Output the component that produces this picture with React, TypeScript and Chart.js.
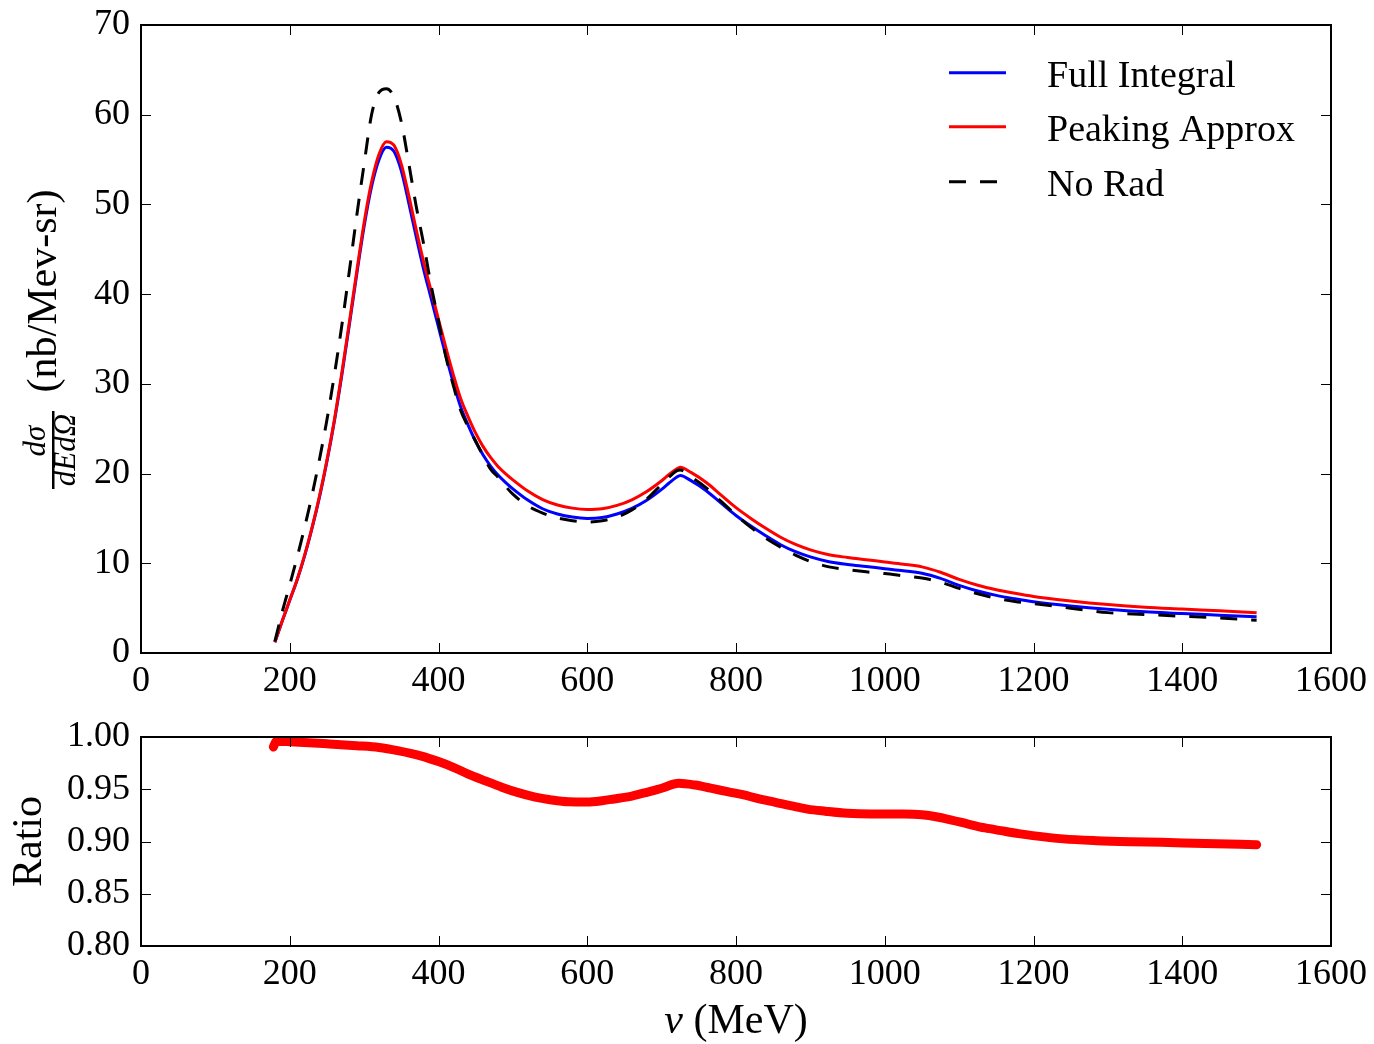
import React, { useEffect, useRef } from "react";
import { Chart, registerables } from "chart.js";

Chart.register(...registerables);

// ---------------- DATA ----------------
const nu = [
  180, 190, 200, 210, 220, 230, 240, 250, 260, 270, 280, 290, 300, 310, 320, 330, 340, 350,
  360, 370, 380, 390, 400, 410, 420, 430, 440, 450, 460, 470, 480, 490, 500, 520, 540, 560,
  580, 600, 620, 640, 660, 680, 700, 710, 720, 725, 740, 760, 780, 800, 820, 840, 860, 880,
  900, 925, 950, 975, 1000, 1025, 1050, 1075, 1100, 1125, 1150, 1175, 1200, 1250, 1300,
  1350, 1400, 1450, 1500,
];

const fullIntegral = [
  1.19, 3.59, 5.87, 8.16, 10.83, 13.92, 17.38, 21.35, 25.82, 30.95, 36.51, 42.16, 47.57,
  51.98, 54.99, 56.37, 55.92, 53.74, 50.18, 46.4, 42.77, 39.55, 36.31, 33.12, 30.1, 27.39,
  25.38, 23.57, 22.06, 20.84, 19.84, 19.02, 18.3, 17.05, 16.08, 15.5, 15.15, 15.0, 15.1,
  15.5, 16.12, 17.03, 18.24, 18.95, 19.58, 19.78, 19.18, 18.09, 16.7, 15.33, 14.15, 13.07,
  12.07, 11.29, 10.71, 10.17, 9.87, 9.64, 9.4, 9.17, 8.88, 8.31, 7.54, 6.91, 6.42, 6.04,
  5.71, 5.24, 4.87, 4.59, 4.41, 4.22, 4.04,
];

const peakingApprox = [
  1.2, 3.6, 5.9, 8.2, 10.9, 14.0, 17.5, 21.5, 26.0, 31.2, 36.8, 42.5, 48.0, 52.5, 55.6, 57.0,
  56.6, 54.5, 51.0, 47.2, 43.6, 40.4, 37.2, 34.0, 31.0, 28.3, 26.3, 24.5, 23.0, 21.8, 20.8,
  20.0, 19.3, 18.05, 17.1, 16.5, 16.15, 16.0, 16.08, 16.45, 17.08, 18.0, 19.2, 19.9, 20.5,
  20.7, 20.1, 19.0, 17.6, 16.2, 15.0, 13.9, 12.9, 12.1, 11.5, 10.95, 10.65, 10.4, 10.15, 9.9,
  9.6, 9.0, 8.2, 7.55, 7.05, 6.65, 6.3, 5.8, 5.4, 5.1, 4.9, 4.7, 4.5,
];

const noRad = [
  1.3, 4.6, 7.6, 10.7, 14.0, 17.6, 21.6, 26.0, 31.0, 36.5, 42.5, 48.7, 54.5, 60.0, 62.5,
  62.9, 62.0, 59.2, 54.6, 49.8, 45.6, 41.0, 37.0, 33.0, 29.8, 27.0, 25.2, 23.6, 22.0, 20.5,
  19.6, 18.6, 17.7, 16.4, 15.6, 15.05, 14.75, 14.6, 14.75, 15.15, 15.95, 17.15, 18.8, 19.6,
  20.3, 20.4, 19.6, 18.4, 16.9, 15.4, 14.0, 12.8, 11.8, 10.9, 10.2, 9.6, 9.3, 9.05, 8.85,
  8.6, 8.35, 7.9, 7.2, 6.6, 6.1, 5.75, 5.5, 5.0, 4.5, 4.3, 4.1, 3.9, 3.65,
];

const ratioNu = [
  178, 182, 200, 250, 290, 320, 345, 376, 400, 420, 440, 463, 485, 506, 530, 550, 575, 600,
  620, 636, 660, 680, 700, 723, 745, 766, 790, 809, 830, 853, 875, 896, 920, 950, 982, 1026,
  1050, 1069, 1090, 1112, 1135, 1156, 1180, 1199, 1240, 1285, 1330, 1372, 1430, 1500,
];

const ratio = [
  0.9905, 0.996, 0.9955, 0.9935, 0.9917, 0.99, 0.987, 0.982, 0.9765, 0.971, 0.9645, 0.958,
  0.952, 0.947, 0.9425, 0.94, 0.938, 0.9378, 0.939, 0.9407, 0.9435, 0.947, 0.951, 0.9557,
  0.954, 0.951, 0.9475, 0.9448, 0.941, 0.9375, 0.934, 0.931, 0.929, 0.927, 0.9263, 0.9262,
  0.9255, 0.9237, 0.9205, 0.9167, 0.913, 0.9104, 0.9075, 0.9056, 0.9025, 0.9008, 0.8998,
  0.8992, 0.898, 0.897,
];

const xTicks = [0, 200, 400, 600, 800, 1000, 1200, 1400, 1600];
const topYTicks = [0, 10, 20, 30, 40, 50, 60, 70];
const ratioYTicks = [0.8, 0.85, 0.9, 0.95, 1.0];

const seriesLabels = ["Full Integral", "Peaking Approx", "No Rad"];
const seriesColors = ["#0000ff", "#ff0000", "#000000"];

// ---------------- STYLE ----------------
const SERIF = "'Liberation Serif', 'Times New Roman', serif";
const TICK_FONT = 36;
const LABEL_FONT = 42;
const LEGEND_FONT = 38;
const DASH = [17, 14];

const frameTicksPlugin = {
  id: "frameTicks",
  afterDraw(chart: any) {
    const { ctx, chartArea: a, scales } = chart;
    const xs = scales.x;
    const ys = scales.y;
    ctx.save();
    ctx.strokeStyle = "#000";
    ctx.lineWidth = 1;
    ctx.beginPath();
    for (const t of xs.ticks) {
      const px = Math.round(xs.getPixelForValue(t.value)) + 0.5;
      ctx.moveTo(px, a.bottom);
      ctx.lineTo(px, a.bottom - 10);
      ctx.moveTo(px, a.top);
      ctx.lineTo(px, a.top + 10);
    }
    for (const t of ys.ticks) {
      const py = Math.round(ys.getPixelForValue(t.value)) + 0.5;
      ctx.moveTo(a.left, py);
      ctx.lineTo(a.left + 10, py);
      ctx.moveTo(a.right, py);
      ctx.lineTo(a.right - 10, py);
    }
    ctx.stroke();
    ctx.lineWidth = 2;
    ctx.strokeRect(a.left, a.top, a.right - a.left, a.bottom - a.top);
    ctx.restore();
  },
};

const topDecorPlugin = {
  id: "topDecor",
  afterDraw(chart: any) {
    const { ctx } = chart;
    ctx.save();
    ctx.fillStyle = "#000";
    // legend
    const ds = chart.data.datasets;
    const rows = [72.7, 126.7, 181.7];
    ds.forEach((d: any, i: number) => {
      const y = rows[i];
      ctx.strokeStyle = d.borderColor;
      ctx.lineWidth = 3;
      ctx.setLineDash(d.borderDash || []);
      ctx.beginPath();
      ctx.moveTo(949, y);
      ctx.lineTo(1006, y);
      ctx.stroke();
      ctx.setLineDash([]);
      ctx.font = `${LEGEND_FONT}px ${SERIF}`;
      ctx.textAlign = "left";
      ctx.textBaseline = "alphabetic";
      ctx.fillText(d.label, 1047, y + 14);
    });
    // y-axis label: d sigma / dE dOmega  (nb/Mev-sr)
    ctx.textAlign = "center";
    ctx.textBaseline = "middle";
    const drawRot = (txt: string, sx: number, sy: number, font: string) => {
      ctx.save();
      ctx.translate(sx, sy);
      ctx.rotate(-Math.PI / 2);
      ctx.font = font;
      ctx.fillText(txt, 0, 0);
      ctx.restore();
    };
    drawRot("(nb/Mev-sr)", 45, 291, `${LABEL_FONT}px ${SERIF}`);
    drawRot("dσ", 37, 441, `italic 31px ${SERIF}`);
    drawRot("dEdΩ", 67, 450, `italic 31px ${SERIF}`);
    ctx.fillRect(52, 411, 2.5, 78);
    ctx.restore();
  },
};

const bottomDecorPlugin = {
  id: "bottomDecor",
  afterDraw(chart: any) {
    const { ctx, chartArea: a } = chart;
    ctx.save();
    ctx.fillStyle = "#000";
    // "Ratio"
    ctx.save();
    ctx.translate(30, (a.top + a.bottom) / 2);
    ctx.rotate(-Math.PI / 2);
    ctx.font = `${LABEL_FONT}px ${SERIF}`;
    ctx.textAlign = "center";
    ctx.textBaseline = "middle";
    ctx.fillText("Ratio", 0, 0);
    ctx.restore();
    // x label: nu (MeV)
    const italicFont = `italic ${LABEL_FONT}px ${SERIF}`;
    const normalFont = `${LABEL_FONT}px ${SERIF}`;
    ctx.font = italicFont;
    const w1 = ctx.measureText("ν").width;
    ctx.font = normalFont;
    const w2 = ctx.measureText(" (MeV)").width;
    const cx = (a.left + a.right) / 2;
    const x0 = cx - (w1 + w2) / 2;
    const base = 1033 - 700;
    ctx.textAlign = "left";
    ctx.textBaseline = "alphabetic";
    ctx.font = italicFont;
    ctx.fillText("ν", x0, base);
    ctx.font = normalFont;
    ctx.fillText(" (MeV)", x0 + w1, base);
    ctx.restore();
  },
};

function xScale(height: number) {
  return {
    type: "linear",
    min: 0,
    max: 1600,
    afterBuildTicks: (s: any) => {
      s.ticks = xTicks.map((v) => ({ value: v }));
    },
    afterFit: (s: any) => {
      s.height = height;
      s.paddingLeft = 0;
      s.paddingRight = 0;
      s.paddingTop = 0;
      s.paddingBottom = 0;
    },
    grid: { display: false, drawTicks: false },
    border: { display: false },
    ticks: {
      color: "#000",
      font: { family: SERIF, size: TICK_FONT },
      padding: 7,
      maxRotation: 0,
      autoSkip: false,
      callback: (v: any) => String(v),
    },
  };
}

function yScale(min: number, max: number, ticks: number[], digits: number) {
  return {
    type: "linear",
    min,
    max,
    afterBuildTicks: (s: any) => {
      s.ticks = ticks.map((v) => ({ value: v }));
    },
    afterFit: (s: any) => {
      s.width = 141;
      s.paddingTop = 0;
      s.paddingBottom = 0;
      s.paddingLeft = 0;
      s.paddingRight = 0;
    },
    grid: { display: false, drawTicks: false },
    border: { display: false },
    ticks: {
      color: "#000",
      font: { family: SERIF, size: TICK_FONT },
      padding: 11,
      autoSkip: false,
      callback: (v: any) => Number(v).toFixed(digits),
    },
  };
}

export default function App() {
  const topRef = useRef<HTMLCanvasElement>(null);
  const botRef = useRef<HTMLCanvasElement>(null);

  useEffect(() => {
    const series = [fullIntegral, peakingApprox, noRad];
    const top = new Chart(topRef.current as HTMLCanvasElement, {
      type: "line",
      data: {
        datasets: series.map((arr, i) => ({
          label: seriesLabels[i],
          data: nu.map((x, j) => ({ x, y: arr[j] })),
          borderColor: seriesColors[i],
          backgroundColor: seriesColors[i],
          borderWidth: 3,
          borderDash: i === 2 ? DASH : [],
          borderCapStyle: "butt",
          pointRadius: 0,
          fill: false,
          cubicInterpolationMode: "monotone",
          order: 3 - i,
        })),
      },
      options: {
        animation: false,
        responsive: false,
        devicePixelRatio: 1,
        layout: { padding: { top: 25, right: 43, left: 0, bottom: 0 } },
        plugins: { legend: { display: false }, tooltip: { enabled: false } },
        scales: {
          x: xScale(47),
          y: yScale(0, 70, topYTicks, 0),
        },
      } as any,
      plugins: [frameTicksPlugin, topDecorPlugin],
    } as any);

    const bottom = new Chart(botRef.current as HTMLCanvasElement, {
      type: "line",
      data: {
        datasets: [
          {
            label: "Ratio",
            data: ratioNu.map((x, j) => ({ x, y: ratio[j] })),
            borderColor: "#ff0000",
            borderWidth: 9,
            borderCapStyle: "round",
            borderJoinStyle: "round",
            pointRadius: 0,
            fill: false,
            cubicInterpolationMode: "monotone",
          },
        ],
      },
      options: {
        animation: false,
        responsive: false,
        devicePixelRatio: 1,
        layout: { padding: { top: 37, right: 43, left: 0, bottom: 0 } },
        plugins: { legend: { display: false }, tooltip: { enabled: false } },
        scales: {
          x: xScale(98),
          y: yScale(0.8, 1.0, ratioYTicks, 2),
        },
      } as any,
      plugins: [frameTicksPlugin, bottomDecorPlugin],
    } as any);

    return () => {
      top.destroy();
      bottom.destroy();
    };
  }, []);

  return (
    <div style={{ position: "absolute", left: 0, top: 0, width: 1374, height: 1044, background: "#fff" }}>
      <canvas ref={topRef} width={1374} height={700} style={{ position: "absolute", left: 0, top: 0, width: 1374, height: 700 }} />
      <canvas ref={botRef} width={1374} height={344} style={{ position: "absolute", left: 0, top: 700, width: 1374, height: 344 }} />
    </div>
  );
}
